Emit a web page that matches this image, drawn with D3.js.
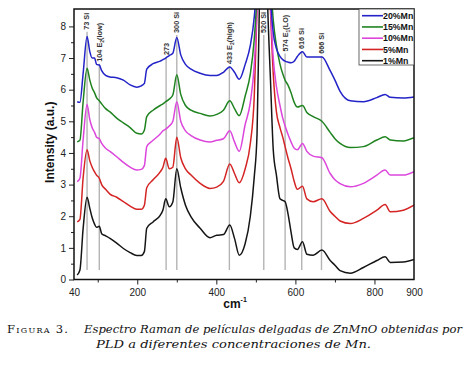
<!DOCTYPE html>
<html lang="es">
<head>
<meta charset="UTF-8">
<title>Espectro Raman ZnMnO</title>
<style>
  body { margin: 0; background: #fff; }
  svg { display: block; }
</style>
</head>
<body>
<script src="https://d3js.org/d3.v7.min.js"></script>
<div id="chart"></div>
<script>
// ---- data ----
const wavenumber = [48, 55, 63, 73, 80, 86, 92, 97, 104, 110, 120, 131, 148, 165, 182, 199, 210, 218, 224,
  240, 258, 265, 272, 281, 290, 300, 310, 322, 336, 359, 384, 401, 418, 434, 446, 458, 473, 486, 496, 503,
  510, 520, 530, 537, 544, 552, 561, 568, 574, 581, 589, 597, 605, 618, 629, 645, 667, 688, 700, 713, 739,
  772, 806, 827, 840, 873, 900];

const mn1 = [0.14, 0.3, 1.6, 2.6, 2.25, 1.95, 1.75, 1.65, 1.68, 1.45, 1.38, 1.3, 1.15, 0.98, 0.85, 0.76, 0.76, 0.88, 1.62,
  1.82, 2.03, 2.2, 2.55, 2.3, 2.45, 3.5, 2.9, 2.35, 1.98, 1.62, 1.32, 1.4, 1.42, 1.72, 1.3, 0.77, 1.14, 2.0, 3.25, 4.6,
  9.5, 14, 8.6, 6.3, 4.1, 3.3, 2.55, 2.5, 2.46, 2.1, 1.5, 1.0, 0.95, 1.19, 0.8, 0.77, 0.93, 0.6, 0.45, 0.28, 0.2,
  0.38, 0.6, 0.72, 0.54, 0.55, 0.63];

const mn5 = [1.82, 1.9, 3.2, 4.1, 3.75, 3.55, 3.4, 3.3, 3.2, 3.0, 2.85, 2.7, 2.6, 2.46, 2.32, 2.22, 2.22, 2.35, 2.9,
  3.15, 3.4, 3.55, 3.83, 3.5, 3.55, 4.5, 3.85, 3.5, 3.3, 3.04, 2.88, 2.92, 3.1, 3.65, 3.35, 3.06, 3.5, 4.3, 5.8, 8.6,
  11, 14, 11, 8.5, 6.5, 5.3, 4.8, 4.5, 4.2, 3.85, 3.5, 3.1, 2.85, 2.95, 2.55, 2.46, 2.55, 2.15, 2.0, 1.85, 1.77,
  1.93, 2.19, 2.37, 2.14, 2.19, 2.35];

const mn10 = [3.09, 3.2, 4.4, 5.53, 5.05, 4.8, 4.65, 4.5, 4.45, 4.3, 4.15, 4.05, 3.88, 3.7, 3.55, 3.46, 3.48, 3.6, 4.2,
  4.4, 4.6, 4.7, 4.75, 4.85, 5.0, 5.62, 5.0, 4.7, 4.55, 4.41, 4.35, 4.4, 4.45, 4.7, 4.35, 4.05, 4.9, 5.6, 6.8, 8.6,
  11, 14, 11, 8.7, 7.0, 6.1, 5.5, 5.1, 4.85, 4.6, 4.35, 4.15, 4.1, 4.3, 4.05, 3.9, 3.85, 3.35, 3.15, 3.03, 2.93,
  3.04, 3.3, 3.46, 3.3, 3.3, 3.41];

const mn15 = [4.35, 4.4, 5.6, 6.68, 6.3, 6.05, 5.9, 5.75, 5.65, 5.55, 5.4, 5.3, 5.1, 4.95, 4.8, 4.62, 4.6, 4.72, 5.15,
  5.35, 5.5, 5.55, 5.62, 5.7, 5.83, 6.47, 5.85, 5.5, 5.35, 5.25, 5.17, 5.22, 5.35, 5.65, 5.4, 5.18, 5.8, 6.5, 7.6, 9.0,
  11, 14, 11.5, 9.5, 8.2, 7.4, 6.81, 6.5, 6.3, 6.15, 5.9, 5.6, 5.45, 5.5, 5.28, 5.15, 5.0, 4.65, 4.45, 4.3, 4.17,
  4.2, 4.41, 4.51, 4.41, 4.38, 4.48];

const mn20 = [5.62, 5.6, 6.5, 7.68, 7.2, 7.0, 7.0, 6.8, 6.78, 6.6, 6.45, 6.4, 6.38, 6.3, 6.15, 6.08, 6.12, 6.2, 6.65,
  6.82, 6.9, 6.95, 7.0, 7.08, 7.15, 7.65, 7.1, 6.8, 6.65, 6.52, 6.45, 6.45, 6.55, 6.72, 6.55, 6.33, 6.8, 7.4, 8.3, 9.5,
  11.5, 14, 12, 9.0, 7.8, 7.3, 7.05, 6.95, 6.9, 6.87, 6.85, 6.9, 7.05, 7.2, 7.03, 7.03, 7.03, 6.6, 6.3, 5.95, 5.65,
  5.62, 5.75, 5.85, 5.76, 5.74, 5.77];

const seriesNames = ["20%Mn", "15%Mn", "10%Mn", "5%Mn", "1%Mn"];
const seriesValues = [mn20, mn15, mn10, mn5, mn1];

const peakPos = [73, 104, 273, 300, 433, 520, 574, 616, 666];
const peakLabels = ["73 Si", "104 E_2(low)", "273", "300 Si", "433 E_2(high)", "520 Si", "574 E_1(LO)", "616 Si", "666 Si"];
const peakLabelTop = [8.43, 8.11, 7.48, 8.46, 8.14, 8.46, 8.37, 7.95, 7.8];   // intensity units

const xTickLabels = [40, 200, 400, 600, 800, 900];
const xMajor = [200, 400, 600, 800];
const xMinor = [100, 300, 500, 700];
const yMajor = d3.range(0, 9);
const yMinor = d3.range(0.5, 8.5, 1);

// ---- layout ----
const W = 469, H = 365;
const plot = {left: 74, right: 414, top: 9, bottom: 279.5};
const colors = ["#2323c8", "#1f831f", "#dc46dc", "#d42424", "#151515"];

const svg = d3.select("#chart").append("svg")
  .attr("width", W).attr("height", H);

const x = d3.scaleLinear().domain([40, 900]).range([plot.left, plot.right]);
const y = d3.scaleLinear().domain([0, 8.55]).range([plot.bottom, plot.top]);

svg.append("clipPath").attr("id", "clip")
  .append("rect")
  .attr("x", plot.left).attr("y", plot.top)
  .attr("width", plot.right - plot.left).attr("height", plot.bottom - plot.top);

// peak markers
const peaks = svg.append("g").attr("class", "peaks");
peakPos.forEach((p, i) => {
  const g = peaks.append("g");
  const t = g.append("text")
    .attr("transform", `translate(${x(p)},${y(peakLabelTop[i])}) rotate(-90)`)
    .attr("text-anchor", "end")
    .attr("dy", "0.33em")
    .style("font-family", "Liberation Sans, Arial, sans-serif")
    .style("font-size", "7.3px")
    .style("font-weight", "bold")
    .attr("fill", "#333");
  const parts = peakLabels[i].split("_");
  t.append("tspan").text(parts[0]);
  if (parts.length > 1) {
    t.append("tspan").attr("dy", 2).style("font-size", "5px").text(parts[1][0]);
    t.append("tspan").attr("dy", -2).text(parts[1].slice(1));
  }
  const len = t.node().getComputedTextLength();
  g.insert("line", "text")
    .attr("x1", x(p)).attr("x2", x(p))
    .attr("y1", 270).attr("y2", y(peakLabelTop[i]) + len + 2)
    .attr("stroke", "#b4b4b4").attr("stroke-width", 1.4);
});

// spectra
const line = d3.line()
  .x((d, i) => x(wavenumber[i]))
  .y(d => y(d))
  .curve(d3.curveMonotoneX);

svg.append("g").attr("clip-path", "url(#clip)")
  .selectAll("path")
  .data(seriesValues.slice().reverse())
  .join("path")
  .attr("d", line)
  .attr("fill", "none")
  .attr("stroke", (d, i) => colors[colors.length - 1 - i])
  .attr("stroke-width", 1.5)
  .attr("stroke-linejoin", "round");

// axes
const axisFont = g => g.selectAll("text")
  .style("font-family", "Liberation Sans, Arial, sans-serif")
  .style("font-size", "10px")
  .attr("fill", "#222");

svg.append("g").attr("transform", `translate(${plot.left},0)`)
  .call(d3.axisLeft(y).tickValues(yMajor).tickSize(5).tickPadding(3).tickFormat(d3.format("d")))
  .call(g => g.select(".domain").remove())
  .call(axisFont);
svg.append("g").attr("transform", `translate(${plot.left},0)`)
  .call(d3.axisLeft(y).tickValues(yMinor).tickSize(3).tickFormat(""))
  .call(g => g.select(".domain").remove());

svg.append("g").attr("transform", `translate(0,${plot.bottom})`)
  .call(d3.axisBottom(x).tickValues(xMajor).tickSize(5).tickFormat(""))
  .call(g => g.select(".domain").remove());
svg.append("g").attr("transform", `translate(0,${plot.bottom})`)
  .call(d3.axisBottom(x).tickValues(xMinor).tickSize(3).tickFormat(""))
  .call(g => g.select(".domain").remove());
svg.append("g").attr("transform", `translate(0,${plot.bottom})`)
  .call(d3.axisBottom(x).tickValues(xTickLabels).tickSize(0).tickPadding(9))
  .call(g => g.select(".domain").remove())
  .call(axisFont);

svg.selectAll(".tick line").attr("stroke", "#222").attr("stroke-width", 1);

// frame
svg.append("rect")
  .attr("x", plot.left).attr("y", plot.top)
  .attr("width", plot.right - plot.left).attr("height", plot.bottom - plot.top)
  .attr("fill", "none").attr("stroke", "#111").attr("stroke-width", 1.5);

// axis titles
svg.append("text")
  .attr("transform", `translate(54,${(plot.top + plot.bottom) / 2 - 2}) rotate(-90)`)
  .attr("text-anchor", "middle")
  .style("font-family", "Liberation Sans, Arial, sans-serif")
  .style("font-size", "12px").style("font-weight", "bold")
  .attr("fill", "#111")
  .text("Intensity (a.u.)");

const xt = svg.append("text")
  .attr("x", 235).attr("y", 308)
  .attr("text-anchor", "middle")
  .style("font-family", "Liberation Sans, Arial, sans-serif")
  .style("font-size", "12px").style("font-weight", "bold")
  .attr("fill", "#111");
xt.append("tspan").text("cm");
xt.append("tspan").attr("dy", -6).style("font-size", "7px").text("-1");

// legend
const lg = svg.append("g");
lg.append("rect")
  .attr("x", 359).attr("y", plot.top)
  .attr("width", plot.right - 359).attr("height", 56)
  .attr("fill", "#fff").attr("stroke", "#444").attr("stroke-width", 0.8);
seriesNames.forEach((name, i) => {
  const ry = 15.7 + i * 11.25;
  lg.append("line")
    .attr("x1", 362).attr("x2", 383).attr("y1", ry).attr("y2", ry)
    .attr("stroke", colors[i]).attr("stroke-width", 1.6);
  lg.append("text")
    .attr("x", 383).attr("y", ry).attr("dy", "0.35em")
    .style("font-family", "Liberation Sans, Arial, sans-serif")
    .style("font-size", "8.8px").style("font-weight", "bold")
    .attr("fill", "#111")
    .text(name);
});

// caption
const capFont = "DejaVu Serif, serif";
svg.append("text")
  .attr("x", 7).attr("y", 333)
  .style("font-family", capFont)
  .style("font-size", "11.5px")
  .style("font-variant", "small-caps")
  .attr("fill", "#111")
  .attr("textLength", 61).attr("lengthAdjust", "spacing")
  .text("Figura 3.");

svg.append("text")
  .attr("x", 84).attr("y", 333)
  .style("font-family", capFont)
  .style("font-size", "11.6px").style("font-style", "italic")
  .attr("fill", "#111")
  .attr("textLength", 378).attr("lengthAdjust", "spacingAndGlyphs")
  .text("Espectro Raman de películas delgadas de ZnMnO obtenidas por");

svg.append("text")
  .attr("x", 96).attr("y", 348)
  .style("font-family", capFont)
  .style("font-size", "11.6px").style("font-style", "italic")
  .attr("fill", "#111")
  .attr("textLength", 275).attr("lengthAdjust", "spacingAndGlyphs")
  .text("PLD a diferentes concentraciones de Mn.");
</script>
</body>
</html>
